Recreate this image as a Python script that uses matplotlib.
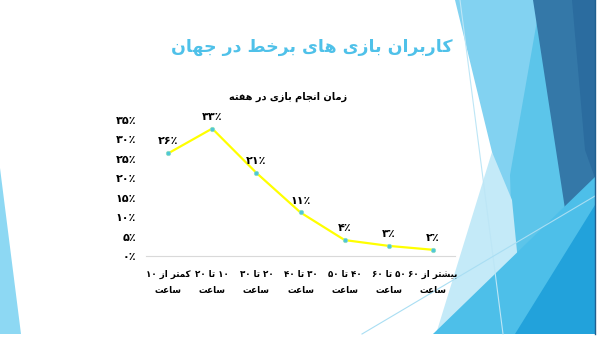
import re
import matplotlib
matplotlib.use('Agg')
import matplotlib.pyplot as plt
from matplotlib.patches import Polygon
from matplotlib.ticker import FuncFormatter

# chart data
categories = ['کمتر از ۱۰\nساعت', '۱۰ تا ۲۰\nساعت', '۲۰ تا ۳۰\nساعت', '۳۰ تا ۴۰\nساعت',
              '۴۰ تا ۵۰\nساعت', '۵۰ تا ۶۰\nساعت', 'بیشتر از ۶۰\nساعت']
share = [26.4, 32.8, 21.4, 11.2, 4.1, 2.6, 1.6]
slide_title = 'کاربران بازی های برخط در جهان'
chart_title = 'زمان انجام بازی در هفته'
yticks = [0, 5, 10, 15, 20, 25, 30, 35]

# minimal arabic shaping (matplotlib has no bidi / joining)
FORMS = {
    'ا': ('\uFE8D', '\uFE8E', None, None),
    'ب': ('\uFE8F', '\uFE90', '\uFE91', '\uFE92'),
    'ت': ('\uFE95', '\uFE96', '\uFE97', '\uFE98'),
    'ج': ('\uFE9D', '\uFE9E', '\uFE9F', '\uFEA0'),
    'خ': ('\uFEA5', '\uFEA6', '\uFEA7', '\uFEA8'),
    'د': ('\uFEA9', '\uFEAA', None, None),
    'ر': ('\uFEAD', '\uFEAE', None, None),
    'ز': ('\uFEAF', '\uFEB0', None, None),
    'س': ('\uFEB1', '\uFEB2', '\uFEB3', '\uFEB4'),
    'ش': ('\uFEB5', '\uFEB6', '\uFEB7', '\uFEB8'),
    'ط': ('\uFEC1', '\uFEC2', '\uFEC3', '\uFEC4'),
    'ع': ('\uFEC9', '\uFECA', '\uFECB', '\uFECC'),
    'ف': ('\uFED1', '\uFED2', '\uFED3', '\uFED4'),
    'ک': ('\uFB8E', '\uFB8F', '\uFB90', '\uFB91'),
    'م': ('\uFEE1', '\uFEE2', '\uFEE3', '\uFEE4'),
    'ن': ('\uFEE5', '\uFEE6', '\uFEE7', '\uFEE8'),
    'ه': ('\uFEE9', '\uFEEA', '\uFEEB', '\uFEEC'),
    'و': ('\uFEED', '\uFEEE', None, None),
    'ی': ('\uFBFC', '\uFBFD', '\uFBFE', '\uFBFF'),
}


def fa_line(text):
    out = []
    for i, ch in enumerate(text):
        f = FORMS.get(ch)
        if f is None:
            out.append(ch)
            continue
        prev = text[i - 1] if i > 0 else ''
        nxt = text[i + 1] if i + 1 < len(text) else ''
        jp = prev in FORMS and FORMS[prev][2] is not None
        jn = f[2] is not None and nxt in FORMS
        if jp and jn:
            out.append(f[3])
        elif jp:
            out.append(f[1])
        elif jn:
            out.append(f[2])
        else:
            out.append(f[0])
    s = ''.join(out)[::-1]
    return re.sub(r'[0-9\u06F0-\u06F9]+', lambda m: m.group(0)[::-1], s)


def fa(text):
    return '\n'.join(fa_line(t) for t in text.split('\n'))


def fa_num(v):
    return str(int(round(v))).translate(str.maketrans('0123456789', '۰۱۲۳۴۵۶۷۸۹')) + '٪'


plt.rcParams['font.family'] = ['DejaVu Sans']

fig = plt.figure(figsize=(6.02, 3.40), dpi=100)

# slide background shapes
bg = fig.add_axes([0, 0, 1, 1], zorder=-5)
bg.set_xlim(0, 602)
bg.set_ylim(340, 0)
bg.axis('off')
shapes = [
    ([(0, 168), (0, 334), (21, 334)], '#8DD8F3'),
    ([(455, 0), (540, 0), (595, 180), (595, 334), (510, 334), (492, 152)], '#82D2F1'),
    ([(538, 15), (595, 190), (595, 334), (515, 334), (510, 175)], '#5CC5EA'),
    ([(492, 152), (512, 200), (525, 334), (436, 334)], '#C4EAF8'),
    ([(533, 0), (595, 0), (595, 178), (567, 222)], '#3478A8'),
    ([(572, 0), (595, 0), (595, 178), (585, 150)], '#2B6C9F'),
    ([(433, 334), (595, 177), (595, 334)], '#4DBFE9'),
    ([(515, 334), (595, 205), (595, 334)], '#22A2DB'),
]
for pts, col in shapes:
    bg.add_patch(Polygon(pts, closed=True, facecolor=col, edgecolor='none'))
bg.plot([460, 503], [0, 334], color='#BDE6F6', lw=0.8)
bg.plot([362, 595], [334, 196], color='#A9DEF3', lw=0.8)
bg.plot([595, 595], [0, 334], color='#1F5F8F', lw=1.0)

bg.text(312, 47, fa(slide_title), ha='center', va='center', fontsize=12.5,
        fontweight='bold', color='#4FC1E9')
bg.text(288, 97, fa(chart_title), ha='center', va='center', fontsize=7,
        fontweight='bold', color='black')

# chart
ax = fig.add_axes([146 / 602, 1 - 256 / 340, (455 - 146) / 602, (256 - 120) / 340])
ax.patch.set_alpha(0)
x = list(range(len(categories)))
ax.plot(x, share, color='#FFFF00', lw=1.6, marker='o', markersize=3.2,
        markerfacecolor='#4FC6D8', markeredgecolor='#8EE0C0', markeredgewidth=0.5, zorder=3)
for xi, v in zip(x, share):
    ax.annotate(fa_num(v), (xi, v), xytext=(0, 5), textcoords='offset points',
                ha='center', va='bottom', fontsize=8, fontweight='bold')

ax.set_xlim(-0.5, len(categories) - 0.5)
ax.set_ylim(0, 35)
ax.set_yticks(yticks)
ax.yaxis.set_major_formatter(FuncFormatter(lambda v, p: fa_num(v)))
ax.set_xticks(x)
ax.set_xticklabels([fa(c) for c in categories], fontsize=6.3, fontweight='bold',
                   linespacing=2.0)
for lab in ax.get_yticklabels():
    lab.set_fontweight('bold')
    lab.set_fontsize(8)
ax.tick_params(axis='both', length=0)
ax.tick_params(axis='y', pad=7)
ax.tick_params(axis='x', pad=10)
for side in ['top', 'right', 'left']:
    ax.spines[side].set_visible(False)
ax.spines['bottom'].set_color('#D9D9D9')
ax.spines['bottom'].set_linewidth(0.8)

fig.savefig('out.png', dpi=100)
